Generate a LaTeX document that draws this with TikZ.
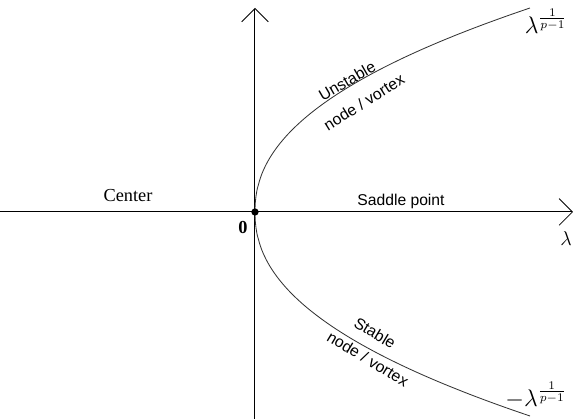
\documentclass[tikz,border=0pt]{standalone}
\usepackage{fontspec}
\setsansfont{Liberation Sans}
\newfontfamily\timesfont{Liberation Serif}
\usetikzlibrary{arrows.meta}
\tikzset{
  axis/.style={-{Straight Barb[length=8pt,width=16pt,line width=0.5pt]}, line width=0.6pt, draw=black},
  branch/.style={line width=0.5pt, draw=black!80},
  curvelabel/.style={font=\sffamily\fontsize{9.5}{11}\selectfont, inner sep=0pt},
  regionlabel/.style={inner sep=1pt},
  rootlabel/.style={font=\Large, inner sep=0pt}
}
\begin{document}
\begin{tikzpicture}[x=0.6pt, y=0.6pt]
\useasboundingbox (-255,-207) rectangle (318,212);

% axes
\coordinate (xstart) at (-255,0);
\coordinate (xend)   at (318,0);
\coordinate (ystart) at (0,-207);
\coordinate (yend)   at (0,204);
\draw[axis] (xstart) -- (xend);
\draw[axis] (ystart) -- (yend);

% bifurcation curve
\draw[branch] plot[domain=-204:204, samples=121, smooth]
  ({275*pow(abs(\x)/204,2.2)}, \x);

\node[circle, fill=black, inner sep=0pt, minimum size=4.4pt] (origin) at (0,0) {};

% labels
\node[regionlabel, font=\timesfont\fontsize{11}{13}\selectfont] (center) at (-127,16) {Center};
\node[regionlabel, font=\sffamily\fontsize{9.4}{11}\selectfont] (saddle) at (146,11) {Saddle point};
\node[regionlabel, font=\timesfont\bfseries\fontsize{11}{13}\selectfont] (zero) at (-12,-15) {0};
\node[regionlabel, font=\large] (lam) at (311,-27) {$\lambda$};

\node[curvelabel, rotate=30] (unst) at (92,131) {Unstable};
\node[curvelabel, rotate=32] (unstnv) at (109,110) {node / vortex};
\node[curvelabel, rotate=-31] (stab) at (120,-121) {Stable};
\node[curvelabel, rotate=-31] (stabnv) at (113,-147) {node / vortex};

\node[rootlabel] (rootp) at (291,191) {$\lambda^{\frac{1}{p-1}}$};
\node[rootlabel] (rootm) at (281,-183) {$-\lambda^{\frac{1}{p-1}}$};
\end{tikzpicture}
\end{document}
